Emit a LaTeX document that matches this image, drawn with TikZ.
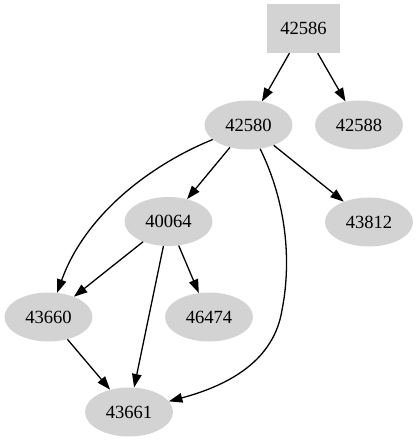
\documentclass[tikz,border=0pt]{standalone}
\usepackage{fontspec}
\setmainfont{Liberation Serif}
\usetikzlibrary{arrows.meta,shapes.geometric}
\definecolor{nodegray}{HTML}{D3D3D3}
\begin{document}
\begin{tikzpicture}[x=1pt,y=-1pt,
  every node/.style={font=\fontsize{18.6}{20}\selectfont, inner sep=0pt},
  ell/.style={ellipse, fill=nodegray, minimum width=88pt, minimum height=49pt},
  boxnode/.style={rectangle, fill=nodegray, minimum width=73pt, minimum height=49pt},
  edge/.style={draw=black, line width=1.3pt, -{Triangle[length=13.5pt,width=9.5pt]}}]
\useasboundingbox (0,0) rectangle (417,443);
\node[boxnode] (n42586) at (303.5,28.5) {42586};
\node[ell] (n42580) at (248.5,125) {42580};
\node[ell] (n42588) at (359,125) {42588};
\node[ell] (n40064) at (168.5,221.5) {40064};
\node[ell] (n43812) at (369,222) {43812};
\node[ell] (n43660) at (48.5,317) {43660};
\node[ell] (n46474) at (209,317) {46474};
\node[ell] (n43661) at (129,412) {43661};
\draw[edge] (n42586) -- (n42580);
\draw[edge] (n42586) -- (n42588);
\draw[edge] (n42580) -- (n40064);
\draw[edge] (n42580) -- (n43812);
\draw[edge] (n42580) .. controls (150,165) and (85,215) .. (n43660);
\draw[edge] (n42580) .. controls (290,210) and (290,270) .. (282,310) .. controls (274,360) and (230,385) .. (n43661);
\draw[edge] (n40064) -- (n43660);
\draw[edge] (n40064) -- (n46474);
\draw[edge] (n40064) -- (n43661);
\draw[edge] (n43660) -- (n43661);
\end{tikzpicture}
\end{document}
